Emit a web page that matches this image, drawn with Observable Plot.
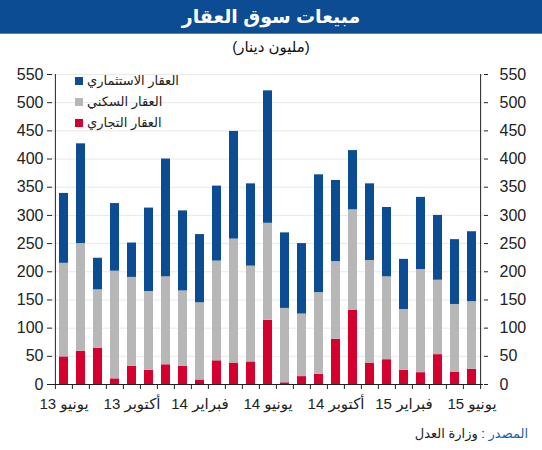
<!DOCTYPE html>
<html><head><meta charset="utf-8">
<script src="https://cdn.jsdelivr.net/npm/d3@7"></script>
<script src="https://cdn.jsdelivr.net/npm/@observablehq/plot@0.6"></script>
<style>
body{margin:0;background:#fff;font-family:"Liberation Sans",Arial,"DejaVu Sans",sans-serif;width:542px;position:relative;color:#222}
#title{height:33px;background:#0b4c93;color:#fff;font-weight:bold;font-size:19px;text-align:center;line-height:33px;border-bottom:1px solid #4a86c8}
#sub{height:26px;line-height:26px;text-align:center;font-size:15px;color:#111}
#chart svg{display:block}
#legend{position:absolute;left:75px;top:70px;font-size:13px;color:#222}
#legend .row{display:flex;align-items:center;height:21px}
#legend .sw{width:8px;height:8px;margin-right:4px}
#source{text-align:right;direction:rtl;padding-right:14px;font-size:13px;margin-top:10px;color:#222}
#source .k{color:#1f5fa8}
</style></head>
<body>
<div id="title" dir="rtl">مبيعات سوق العقار</div>
<div id="sub" dir="rtl">(مليون دينار)</div>
<div id="chart"></div>
<div id="legend"></div>
<div id="source" dir="rtl"><span class="k">المصدر</span> : وزارة العدل</div>
<script>
const months = ["2013-06","2013-07","2013-08","2013-09","2013-10","2013-11","2013-12",
  "2014-01","2014-02","2014-03","2014-04","2014-05","2014-06","2014-07","2014-08","2014-09","2014-10","2014-11","2014-12",
  "2015-01","2015-02","2015-03","2015-04","2015-05","2015-06"];
const seriesNames = ["العقار التجاري","العقار السكني","العقار الاستثماري"];
const seriesColors = ["#d6002f","#b7b7b7","#0b4c93"];
const commercial  = [49,59,64,10,32,25,35,32,8,42,38,40,114,3,14,18,80,132,38,44,25,21,53,22,27];
const residential = [166,191,104,191,158,140,156,134,137,177,220,170,172,132,111,145,138,178,182,147,108,183,132,120,120];
const investment  = [124,177,56,120,61,148,209,142,121,133,191,146,235,134,125,209,144,105,136,123,89,128,115,115,124];
const labelMonths = ["2013-06","2013-10","2014-02","2014-06","2014-10","2015-02","2015-06"];
const labelTexts  = ["يونيو 13","أكتوبر 13","فبراير 14","يونيو 14","أكتوبر 14","فبراير 15","يونيو 15"];
const yTicks = [0,50,100,150,200,250,300,350,400,450,500,550];

const seriesValues = [commercial, residential, investment];
const data = [];
months.forEach((m, i) => {
  seriesNames.forEach((s, j) => data.push({month: m, series: s, value: seriesValues[j][i]}));
});

const W = 542, ML = 52, MR = 59;
const step = (W - ML - MR) / months.length;
const labelOf = new Map(labelMonths.map((m, i) => [m, labelTexts[i]]));

const chart = Plot.plot({
  width: W, height: 356,
  marginLeft: ML, marginRight: MR, marginTop: 14, marginBottom: 32,
  style: {fontFamily: '"Liberation Sans", Arial, "DejaVu Sans", sans-serif', color: "#222", background: "transparent"},
  x: {type: "band", domain: months, paddingInner: 0.48, paddingOuter: 0.24, axis: null},
  y: {domain: [0, 550], axis: null},
  color: {domain: seriesNames, range: seriesColors},
  marks: [
    Plot.gridY(yTicks.slice(1), {stroke: "#e9e9e9", strokeOpacity: 1}),
    Plot.barY(data, {x: "month", y: "value", fill: "series"}),
    Plot.ruleY([0], {stroke: "#222"}),
    Plot.ruleX([months[0]], {y1: 0, y2: 550, dx: -step / 2, stroke: "#222"}),
    Plot.ruleX([months[months.length - 1]], {y1: 0, y2: 550, dx: step / 2, stroke: "#222"}),
    Plot.axisY({anchor: "left", ticks: yTicks, tickSize: 5, tickPadding: 4, fontSize: 16, label: null}),
    Plot.axisY({anchor: "right", ticks: yTicks, tickSize: 4, tickPadding: 12, fontSize: 16, label: null}),
    Plot.axisX({ticks: months, tickSize: 5, tickFormat: () => "", dx: -step / 2, label: null}),
    Plot.axisX({ticks: [months[months.length - 1]], tickSize: 5, tickFormat: () => "", dx: step / 2, label: null}),
    Plot.axisX({ticks: labelMonths, tickSize: 0, tickPadding: 14, fontSize: 15, tickFormat: d => labelOf.get(d), label: null})
  ]
});
document.getElementById("chart").appendChild(chart);

const legend = document.getElementById("legend");
[2, 1, 0].forEach(j => {
  const row = document.createElement("div");
  row.className = "row";
  row.innerHTML = `<div class="sw" style="background:${seriesColors[j]}"></div><span dir="rtl">${seriesNames[j]}</span>`;
  legend.appendChild(row);
});
</script>
</body></html>
